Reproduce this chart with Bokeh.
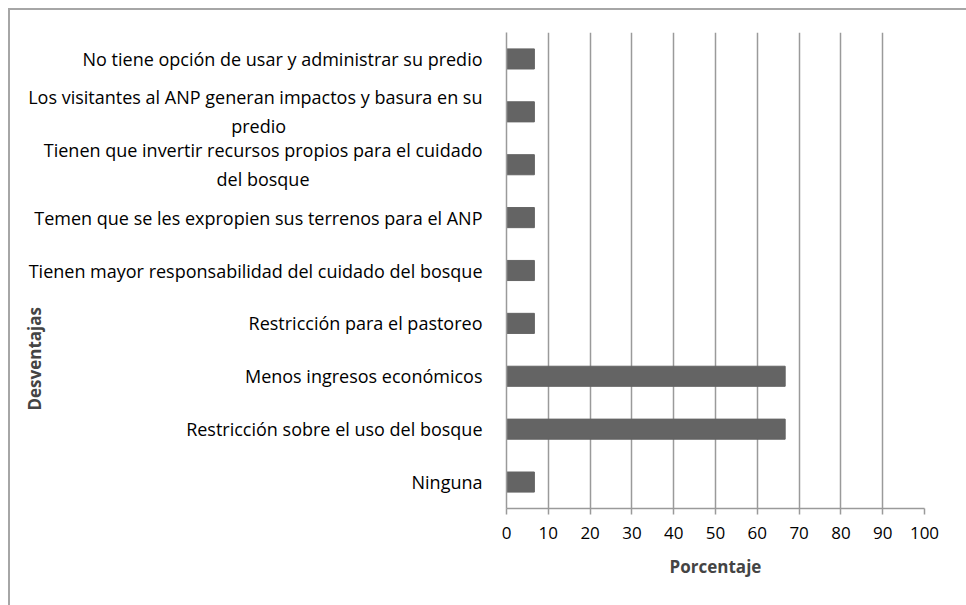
from bokeh.plotting import figure
from bokeh.models import FactorRange, Range1d, FixedTicker
from bokeh.embed import file_html
from bokeh.resources import INLINE

categories = [
    "Ninguna",
    "Restricción sobre el uso del bosque",
    "Menos ingresos económicos",
    "Restricción para el pastoreo",
    "Tienen mayor responsabilidad del cuidado del bosque",
    "Temen que se les expropien sus terrenos para el ANP",
    "Tienen que invertir recursos propios para el cuidado\ndel bosque",
    "Los visitantes al ANP generan impactos y basura en su\npredio",
    "No tiene opción de usar y administrar su predio",
]
values = [6.67, 66.67, 66.67, 6.67, 6.67, 6.67, 6.67, 6.67, 6.67]
x_ticks = [0, 10, 20, 30, 40, 50, 60, 70, 80, 90, 100]
x_title = "Porcentaje"
y_title = "Desventajas"

FONT = "Open Sans"
NB = "\u00a0"


def centre_second_line(label, pad):
    # Bokeh right-aligns the lines of a wrapped tick label; pad the short
    # second line so it sits roughly centred under the first one.
    if "\n" not in label:
        return label
    first, second = label.split("\n", 1)
    return first + "\n" + second + NB * pad


pads = {"del bosque": 37, "predio": 42}
factors = [centre_second_line(c, pads.get(c.split("\n")[-1], 0)) for c in categories]

p = figure(
    width=958, height=597,
    y_range=FactorRange(factors=factors, range_padding=0),
    x_range=Range1d(0, 100),
    output_backend="svg", toolbar_location=None,
    min_border_left=496, min_border_right=44,
    min_border_top=22, min_border_bottom=99,
    margin=(8, 0, 0, 8),
    styles={"border-left": "2px solid #a6a6a6", "border-top": "2px solid #a6a6a6"},
)
p.outline_line_color = None
p.hbar(y=factors, right=values, left=0, height=0.38, color="#646464")

p.ygrid.grid_line_color = None
p.xgrid.grid_line_color = "#9a9a9a"
p.xgrid.grid_line_width = 1.5
p.xaxis.ticker = FixedTicker(ticks=x_ticks)
p.xaxis.minor_tick_line_color = None
p.xaxis.major_tick_in = 0
p.xaxis.major_tick_out = 6
p.xaxis.axis_line_color = "#9a9a9a"
p.xaxis.axis_line_width = 1.5
p.xaxis.major_tick_line_color = "#9a9a9a"
p.xaxis.major_tick_line_width = 1.5
p.xaxis.major_label_text_font = FONT
p.xaxis.major_label_text_font_size = "17px"
p.xaxis.major_label_text_color = "black"
p.xaxis.major_label_standoff = 12
p.xaxis.axis_label = x_title
p.xaxis.axis_label_text_font = FONT
p.xaxis.axis_label_text_font_size = "17px"
p.xaxis.axis_label_text_font_style = "bold"
p.xaxis.axis_label_standoff = 13

p.yaxis.axis_line_color = "#9a9a9a"
p.yaxis.axis_line_width = 1.5
p.yaxis.major_tick_line_color = None
p.yaxis.minor_tick_line_color = None
p.yaxis.major_label_text_font = FONT
p.yaxis.major_label_text_font_size = "18px"
p.yaxis.major_label_text_color = "black"
p.yaxis.major_label_standoff = 18
# trailing padding moves the rotated title down, as in the original
p.yaxis.axis_label = y_title + NB * 40
p.yaxis.axis_label_text_font = FONT
p.yaxis.axis_label_text_font_size = "17px"
p.yaxis.axis_label_text_font_style = "bold"
p.yaxis.axis_label_standoff = -21

open("out.html", "w").write(file_html(p, INLINE))
